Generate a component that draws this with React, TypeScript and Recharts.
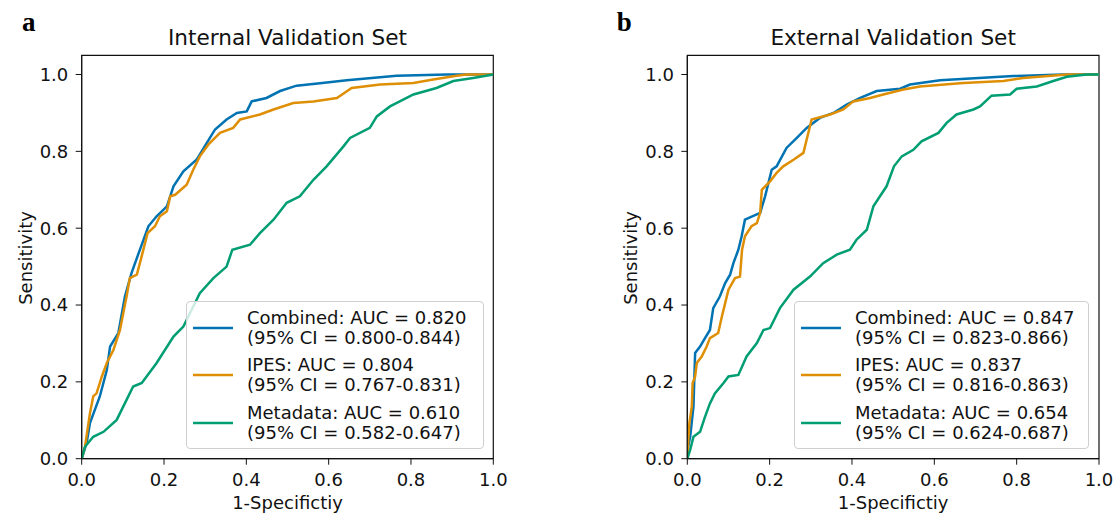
import { LineChart, Line, XAxis, YAxis, ReferenceArea, Legend } from 'recharts';

const axisTicks = [0, 0.2, 0.4, 0.6, 0.8, 1.0];
const seriesNames = ['Combined', 'IPES', 'Metadata'];
const seriesColors = ['#0173B2', '#DE8F05', '#029E73'];

// internal validation set
const internalAuc = ['0.820', '0.804', '0.610'];
const internalCi = ['0.800-0.844', '0.767-0.831', '0.582-0.647'];
const internalCombinedFpr = [0, 0.012, 0.02, 0.044, 0.061, 0.069, 0.089, 0.105, 0.121, 0.134, 0.162, 0.182, 0.207, 0.223, 0.247, 0.279, 0.304, 0.324, 0.352, 0.377, 0.401, 0.413, 0.449, 0.482, 0.522, 0.579, 0.644, 0.765, 0.887, 1];
const internalCombinedTpr = [0, 0.041, 0.093, 0.162, 0.231, 0.292, 0.327, 0.422, 0.483, 0.522, 0.605, 0.631, 0.657, 0.709, 0.748, 0.778, 0.822, 0.857, 0.883, 0.9, 0.904, 0.93, 0.939, 0.957, 0.971, 0.977, 0.985, 0.997, 1, 1];
const internalIpesFpr = [0, 0.008, 0.02, 0.028, 0.036, 0.049, 0.061, 0.077, 0.093, 0.109, 0.117, 0.134, 0.146, 0.16, 0.178, 0.19, 0.207, 0.215, 0.227, 0.255, 0.271, 0.287, 0.308, 0.336, 0.368, 0.385, 0.433, 0.466, 0.514, 0.563, 0.62, 0.656, 0.725, 0.806, 0.854, 0.911, 0.935, 1];
const internalIpesTpr = [0, 0.031, 0.118, 0.162, 0.17, 0.214, 0.249, 0.283, 0.335, 0.422, 0.47, 0.479, 0.528, 0.587, 0.605, 0.631, 0.644, 0.683, 0.687, 0.713, 0.752, 0.787, 0.818, 0.848, 0.861, 0.883, 0.896, 0.909, 0.926, 0.93, 0.939, 0.965, 0.974, 0.978, 0.987, 0.997, 1, 1];
const internalMetaFpr = [0, 0.008, 0.028, 0.053, 0.085, 0.109, 0.125, 0.146, 0.182, 0.223, 0.247, 0.287, 0.32, 0.352, 0.366, 0.409, 0.433, 0.466, 0.498, 0.53, 0.563, 0.595, 0.636, 0.652, 0.7, 0.717, 0.749, 0.806, 0.862, 0.903, 0.951, 1];
const internalMetaTpr = [0, 0.031, 0.057, 0.07, 0.101, 0.153, 0.188, 0.197, 0.249, 0.318, 0.344, 0.431, 0.47, 0.5, 0.544, 0.557, 0.587, 0.622, 0.666, 0.683, 0.726, 0.761, 0.813, 0.835, 0.861, 0.891, 0.917, 0.948, 0.965, 0.983, 0.991, 1];

// external validation set
const externalAuc = ['0.847', '0.837', '0.654'];
const externalCi = ['0.823-0.866', '0.816-0.863', '0.624-0.687'];
const externalCombinedFpr = [0, 0.002, 0.007, 0.015, 0.019, 0.031, 0.043, 0.055, 0.063, 0.079, 0.092, 0.104, 0.112, 0.124, 0.132, 0.14, 0.177, 0.189, 0.205, 0.217, 0.241, 0.266, 0.29, 0.322, 0.355, 0.387, 0.42, 0.46, 0.517, 0.541, 0.614, 0.792, 0.913, 1];
const externalCombinedTpr = [0, 0.031, 0.057, 0.136, 0.275, 0.292, 0.314, 0.335, 0.392, 0.422, 0.457, 0.479, 0.509, 0.544, 0.579, 0.622, 0.64, 0.683, 0.752, 0.761, 0.809, 0.835, 0.861, 0.887, 0.9, 0.922, 0.939, 0.957, 0.963, 0.974, 0.985, 0.996, 1, 1];
const externalIpesFpr = [0, 0.002, 0.005, 0.011, 0.013, 0.019, 0.023, 0.035, 0.047, 0.055, 0.075, 0.084, 0.092, 0.1, 0.116, 0.128, 0.133, 0.14, 0.156, 0.169, 0.177, 0.181, 0.201, 0.217, 0.233, 0.258, 0.282, 0.29, 0.302, 0.347, 0.379, 0.403, 0.444, 0.476, 0.525, 0.565, 0.67, 0.768, 0.816, 0.922, 1];
const externalIpesTpr = [0, 0.04, 0.092, 0.136, 0.197, 0.214, 0.249, 0.266, 0.292, 0.314, 0.327, 0.37, 0.405, 0.44, 0.47, 0.474, 0.544, 0.579, 0.605, 0.613, 0.64, 0.7, 0.722, 0.744, 0.761, 0.778, 0.796, 0.831, 0.883, 0.896, 0.909, 0.93, 0.939, 0.948, 0.961, 0.969, 0.978, 0.983, 0.991, 1, 1];
const externalMetaFpr = [0, 0.007, 0.015, 0.031, 0.043, 0.055, 0.067, 0.088, 0.1, 0.124, 0.144, 0.169, 0.185, 0.201, 0.225, 0.258, 0.298, 0.33, 0.363, 0.395, 0.411, 0.436, 0.452, 0.468, 0.484, 0.502, 0.521, 0.549, 0.569, 0.61, 0.63, 0.654, 0.695, 0.711, 0.739, 0.784, 0.8, 0.849, 0.889, 0.922, 0.97, 1];
const externalMetaTpr = [0, 0.023, 0.057, 0.07, 0.109, 0.144, 0.17, 0.197, 0.214, 0.218, 0.266, 0.301, 0.335, 0.34, 0.392, 0.44, 0.474, 0.509, 0.531, 0.544, 0.57, 0.596, 0.657, 0.683, 0.709, 0.761, 0.787, 0.804, 0.826, 0.848, 0.874, 0.896, 0.909, 0.917, 0.945, 0.948, 0.963, 0.969, 0.983, 0.994, 1, 1];

const FONT = '"DejaVu Sans", sans-serif';
const INK = '#111';
const CHART_H = 521;
const PLOT_TOP = 55.3;
const PLOT_BOTTOM = 458.7;
const Y_AXIS_W = 60;

const toPoints = (fpr: number[], tpr: number[]) => fpr.map((x, i) => ({ x, y: tpr[i] }));

interface PanelProps {
  chartLeft: number;
  width: number;
  plotLeft: number;
  plotRight: number;
  letter: string;
  title: string;
  curves: { x: number; y: number }[][];
  aucs: string[];
  cis: string[];
  legendLeft: number;
  legendWidth: number;
}

const LegendBox = ({ aucs, cis, w }: { aucs: string[]; cis: string[]; w: number }) => (
  <div
    style={{
      position: 'relative',
      width: w,
      height: 148,
      boxSizing: 'border-box',
      border: '1px solid #cfcfcf',
      borderRadius: 4,
      background: 'rgba(255,255,255,0.8)',
      fontFamily: FONT,
      fontSize: 18,
      color: INK,
    }}
  >
    {seriesNames.map((name, i) => (
      <div key={name} style={{ position: 'absolute', left: 0, top: 5.7 + i * 47.5, width: '100%', height: 40 }}>
        <svg width={42} height={6} style={{ position: 'absolute', left: 5, top: 17 }}>
          <line x1={1} y1={3} x2={41} y2={3} stroke={seriesColors[i]} strokeWidth={2.6} />
        </svg>
        <div style={{ position: 'absolute', left: 60, top: 0, lineHeight: '20px', whiteSpace: 'nowrap', textAlign: 'left' }}>
          {name}: AUC = {aucs[i]}
          <br />
          (95% CI = {cis[i]})
        </div>
      </div>
    ))}
  </div>
);

const Panel = (p: PanelProps) => {
  const centerX = (p.plotLeft + p.plotRight) / 2 - p.chartLeft;
  const localLeft = p.plotLeft - p.chartLeft;
  return (
    <div style={{ position: 'absolute', left: p.chartLeft, top: 0, width: p.width, height: CHART_H }}>
      <LineChart
        width={p.width}
        height={CHART_H}
        margin={{ top: PLOT_TOP, right: p.chartLeft + p.width - p.plotRight, bottom: 0, left: localLeft - Y_AXIS_W }}
      >
        <XAxis
          type="number"
          dataKey="x"
          domain={[0, 1]}
          ticks={axisTicks}
          tickFormatter={(v: number) => v.toFixed(1)}
          height={CHART_H - PLOT_BOTTOM}
          tickSize={6}
          tickMargin={8.5}
          tick={{ fill: INK, fontSize: 18, fontFamily: FONT }}
          stroke={INK}
          allowDataOverflow
        />
        <YAxis
          type="number"
          dataKey="y"
          domain={[0, 1.05]}
          ticks={axisTicks}
          tickFormatter={(v: number) => v.toFixed(1)}
          width={Y_AXIS_W}
          tickSize={6}
          tickMargin={7.4}
          tick={{ fill: INK, fontSize: 18, fontFamily: FONT }}
          stroke={INK}
          allowDataOverflow
        />
        <ReferenceArea x1={0} x2={1} y1={0} y2={1.05} fill="none" stroke={INK} strokeWidth={1.2} strokeOpacity={1} fillOpacity={0} />
        {p.curves.map((pts, i) => (
          <Line
            key={seriesNames[i]}
            data={pts}
            dataKey="y"
            name={seriesNames[i]}
            type="linear"
            stroke={seriesColors[i]}
            strokeWidth={2.5}
            dot={false}
            activeDot={false}
            isAnimationActive={false}
          />
        ))}
        <Legend
          layout="vertical"
          align="center"
          verticalAlign="middle"
          wrapperStyle={{ left: p.legendLeft - p.chartLeft, top: 301, width: p.legendWidth, height: 148, margin: 0 }}
          content={() => <LegendBox aucs={p.aucs} cis={p.cis} w={p.legendWidth} />}
        />
      </LineChart>
      <svg width={p.width} height={CHART_H} style={{ position: 'absolute', left: 0, top: 0, pointerEvents: 'none' }}>
        <text x={p.letter === 'a' ? 22 : 16.7} y={31} fontFamily='"Liberation Serif", serif' fontWeight="bold" fontSize={27} fill="#000">
          {p.letter}
        </text>
        <text x={centerX} y={45} textAnchor="middle" fontFamily={FONT} fontSize={21.6} fill={INK}>
          {p.title}
        </text>
        <text x={centerX} y={508.5} textAnchor="middle" fontFamily={FONT} fontSize={18} fill={INK}>
          1-Specifictiy
        </text>
        <text
          x={0}
          y={0}
          textAnchor="middle"
          fontFamily={FONT}
          fontSize={18}
          fill={INK}
          transform={`translate(${localLeft - 50}, ${(PLOT_TOP + PLOT_BOTTOM) / 2 + 1}) rotate(-90)`}
        >
          Sensitivity
        </text>
      </svg>
    </div>
  );
};

export default function App() {
  return (
    <div style={{ position: 'absolute', left: 0, top: 0, width: 1120, height: 521, background: '#fff', overflow: 'hidden' }}>
      <Panel
        chartLeft={0}
        width={540}
        plotLeft={81.7}
        plotRight={493.3}
        letter="a"
        title="Internal Validation Set"
        curves={[
          toPoints(internalCombinedFpr, internalCombinedTpr),
          toPoints(internalIpesFpr, internalIpesTpr),
          toPoints(internalMetaFpr, internalMetaTpr),
        ]}
        aucs={internalAuc}
        cis={internalCi}
        legendLeft={186}
        legendWidth={298}
      />
      <Panel
        chartLeft={600}
        width={520}
        plotLeft={687.3}
        plotRight={1099}
        letter="b"
        title="External Validation Set"
        curves={[
          toPoints(externalCombinedFpr, externalCombinedTpr),
          toPoints(externalIpesFpr, externalIpesTpr),
          toPoints(externalMetaFpr, externalMetaTpr),
        ]}
        aucs={externalAuc}
        cis={externalCi}
        legendLeft={794}
        legendWidth={295}
      />
    </div>
  );
}
